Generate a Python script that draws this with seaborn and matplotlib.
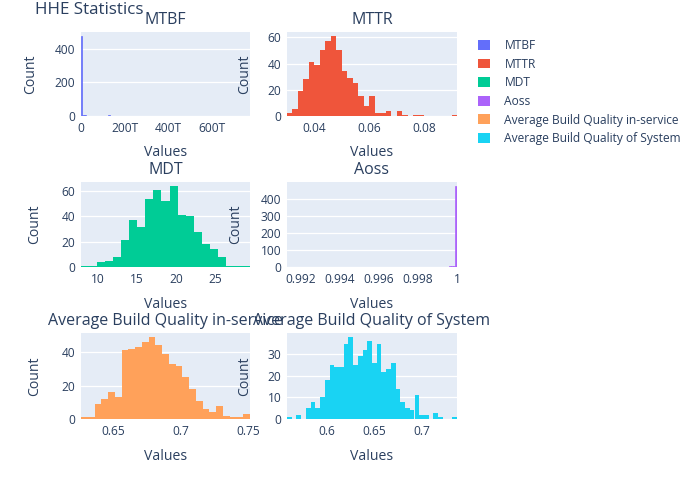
import numpy as np
import pandas as pd
import matplotlib
matplotlib.use('Agg')
import matplotlib.pyplot as plt
from matplotlib.patches import Patch
from matplotlib.ticker import MultipleLocator, FuncFormatter
import seaborn as sns

# histogram data: first bin edge, bin width, count per bin
names = ['MTBF', 'MTTR', 'MDT', 'Aoss',
         'Average Build Quality in-service', 'Average Build Quality of System']
colors = ['#636EFA', '#EF553B', '#00CC96', '#AB63FA', '#FFA15A', '#19D3F3']

# MTBF values are in T (1e12)
mtbf_start, mtbf_width = 0.0, 6.25
mtbf_counts = [476, 8, 5, 3, 2] + [0] * 15 + [3] + [0] * 102 + [1]

mttr_start, mttr_width = 0.030, 0.002
mttr_counts = [2, 5, 19, 28, 41, 39, 50, 57, 61, 50, 34, 29, 25, 15, 8, 15,
               2, 2, 4, 0, 4, 1, 0, 1, 1, 0, 0, 0, 0, 0, 1]

mdt_start, mdt_width = 7.83, 1.0257
mdt_counts = [1, 1, 4, 5, 8, 21, 37, 32, 54, 61, 52, 64, 41, 40, 28, 18, 14, 8,
              1, 1, 1]

aoss_start, aoss_width = 0.9913, 0.0001
aoss_counts = ([1] + [0] * 14 + [1] + [0] * 14 + [1] + [0] * 9 + [1] + [0] * 9
               + [1] + [0] * 7 + [1] + [0] * 5
               + [1, 0, 0, 1, 0, 1, 0, 1, 1, 0, 2, 1, 0, 1, 2, 0, 1, 2, 2, 3, 3, 6, 474])

abq_is_start, abq_is_width = 0.6263, 0.005
abq_is_counts = [1, 1, 9, 12, 16, 13, 41, 42, 43, 46, 49, 44, 39, 33, 32, 25,
                 18, 11, 6, 4, 8, 2, 1, 1, 3]

abq_sys_start, abq_sys_width = 0.5575, 0.005
abq_sys_counts = [1, 0, 2, 0, 5, 8, 5, 10, 18, 25, 24, 24, 35, 38, 25, 29, 32,
                  36, 26, 35, 22, 23, 26, 14, 8, 5, 4, 11, 2, 2, 0, 3, 1, 0, 0, 1]

hists = [
    (mtbf_start, mtbf_width, mtbf_counts),
    (mttr_start, mttr_width, mttr_counts),
    (mdt_start, mdt_width, mdt_counts),
    (aoss_start, aoss_width, aoss_counts),
    (abq_is_start, abq_is_width, abq_is_counts),
    (abq_sys_start, abq_sys_width, abq_sys_counts),
]

TXT = '#2a3f5f'
sns.set_style('darkgrid', {'axes.facecolor': '#E5ECF6', 'grid.color': 'white'})
plt.rcParams['font.family'] = ['Open Sans', 'DejaVu Sans']
plt.rcParams['text.color'] = TXT

W, H = 700, 500
fig = plt.figure(figsize=(7, 5), dpi=100)

# axes boxes in pixels (x0, y0, x1, y1)
boxes = [(81, 32, 250, 116), (287, 32, 457, 116),
         (81, 182, 250, 267), (287, 182, 457, 267),
         (81, 333, 250, 419), (287, 333, 457, 419)]
ylabel_x = [-0.30, -0.25, -0.272, -0.30, -0.272, -0.25]
xlabel_gap = [36, 36, 37, 37, 38, 38]
ysteps = [200, 20, 20, 100, 20, 10]
xsteps = [200, 0.02, 5, 0.002, 0.05, 0.05]
thin_bars = [True, False, False, True, False, False]


def fmt_g(v, pos):
    return f'{round(v, 6):g}'


def fmt_t(v, pos):
    return '0' if abs(v) < 1e-9 else f'{v:g}T'


for i, (name, color, (start, width, counts)) in enumerate(zip(names, colors, hists)):
    x0, y0, x1, y1 = boxes[i]
    ax = fig.add_axes([x0 / W, 1 - y1 / H, (x1 - x0) / W, (y1 - y0) / H])
    counts = np.array(counts, dtype=float)
    nb = len(counts)
    centers = start + width * (np.arange(nb) + 0.5)
    df = pd.DataFrame({'value': centers, 'count': counts})
    sns.histplot(data=df, x='value', weights='count', binwidth=width,
                 binrange=(start, start + width * nb), ax=ax,
                 color=color, alpha=1, linewidth=0, stat='count')
    if thin_bars[i]:
        # very narrow bins: give the non-empty ones a thin outline so they show
        for p in ax.patches:
            if p.get_height() > 0:
                p.set_edgecolor(color)
                p.set_linewidth(0.5)
    ax.set_xlim(start, start + width * nb)
    ax.set_ylim(0, counts.max() * 1.05)
    ax.grid(axis='x', visible=False)
    ax.grid(axis='y', color='white', linewidth=0.9)
    for s in ax.spines.values():
        s.set_visible(False)
    ax.yaxis.set_major_locator(MultipleLocator(ysteps[i]))
    ax.xaxis.set_major_locator(MultipleLocator(xsteps[i]))
    ax.xaxis.set_major_formatter(FuncFormatter(fmt_t if i == 0 else fmt_g))
    ax.tick_params(length=0, pad=4, labelsize=12 * 0.72, colors=TXT)
    ax.set_title(name, fontsize=16 * 0.72, color=TXT, pad=6)
    ax.set_xlabel('Values', fontsize=14 * 0.72, color=TXT)
    ax.set_ylabel('Count', fontsize=14 * 0.72, color=TXT)
    ax.xaxis.label.set_va('center')
    ax.yaxis.label.set_va('center')
    ax.xaxis.set_label_coords(0.5, -(xlabel_gap[i] / (y1 - y0)))
    ax.yaxis.set_label_coords(ylabel_x[i], 0.5)

fig.text(35 / W, 1 - 10 / H, 'HHE Statistics', fontsize=17 * 0.72, color=TXT,
         ha='left', va='center')

handles = [Patch(facecolor=c, edgecolor='none', label=n) for n, c in zip(names, colors)]
fig.legend(handles=handles, loc='upper left', bbox_to_anchor=(478 / W, 1 - 39 / H),
           frameon=False, fontsize=12 * 0.72, handlelength=1.0, handleheight=0.9,
           handletextpad=1.2, labelspacing=0.47, borderpad=0, borderaxespad=0,
           labelcolor=TXT)

fig.savefig('out.png', dpi=100)
